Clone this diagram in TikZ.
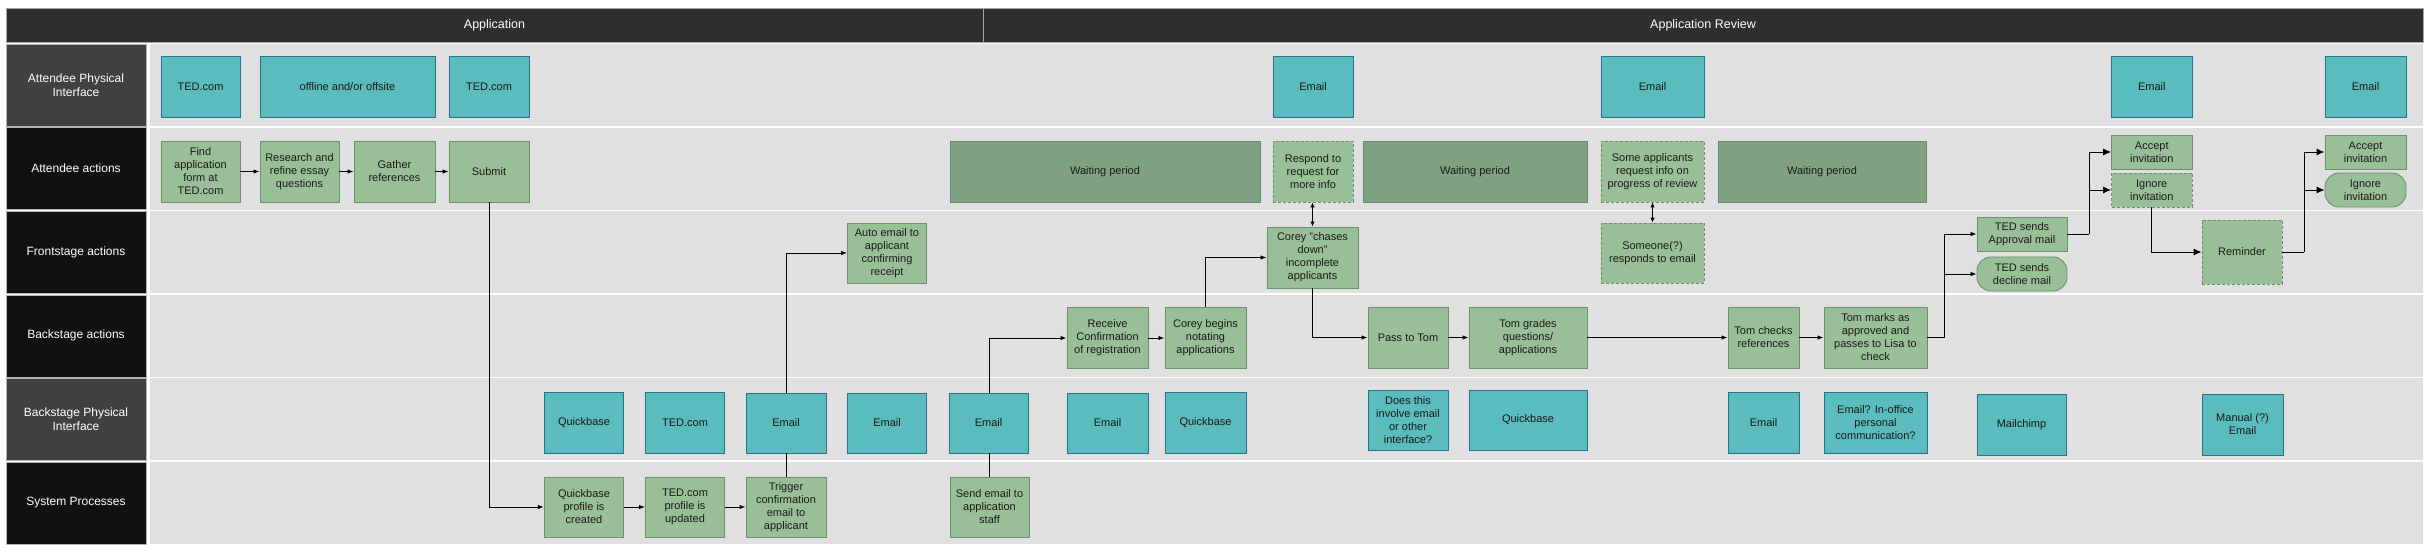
\documentclass[tikz,border=0pt]{standalone}
\usepackage{fontspec}
\setmainfont{Liberation Sans}
\usetikzlibrary{arrows.meta}
\definecolor{hdrfill}{HTML}{2E2E2E}
\definecolor{labdark}{HTML}{404040}
\definecolor{labblack}{HTML}{111111}
\definecolor{bandfill}{HTML}{E0E0E0}
\definecolor{physfill}{HTML}{5BBCBD}
\definecolor{physline}{HTML}{2C7090}
\definecolor{sagefill}{HTML}{99BF99}
\definecolor{sageline}{HTML}{6E906E}
\definecolor{waitfill}{HTML}{80A283}
\definecolor{waitline}{HTML}{6A8A6E}
\begin{document}
\begin{tikzpicture}[x=1pt,y=-1pt,
  sz/.style 2 args={minimum width=#1, minimum height=#2},
  base/.style={inner sep=1pt, align=center, font=\fontsize{11}{13}\selectfont, text=black!90, line width=0.9pt},
  phys/.style={base, fill=physfill, draw=physline},
  act/.style={base, fill=sagefill, draw=sageline},
  actdash/.style={act, dash pattern=on 3pt off 2pt},
  pill/.style={act, rounded corners=14pt},
  wait/.style={base, fill=waitfill, draw=waitline},
  lanelab/.style={text=white, align=center, font=\fontsize{12}{14}\selectfont, minimum width=140pt, minimum height=82pt, inner sep=0pt, draw=gray!60, line width=0.6pt},
  bandbox/.style={fill=bandfill, draw=none, minimum width=2273pt, minimum height=82pt, inner sep=0pt},
  hdrbox/.style={fill=hdrfill, draw=gray!70, line width=0.6pt, text=white, font=\fontsize{12.5}{15}\selectfont, minimum height=34pt, inner sep=0pt},
  conn/.style={line width=0.95pt, draw=black},
  arr/.style={conn, -{Latex[length=6pt,width=4.5pt]}},
  bigarr/.style={conn, -{Latex[length=8pt,width=7pt]}},
  dbl/.style={conn, {Latex[length=5pt,width=4.5pt]}-{Latex[length=5pt,width=4.5pt]}}
]
\useasboundingbox (0,0) rectangle (2429,556);
\fill[white] (0,0) rectangle (2429,556);

% headers
\node[hdrbox, minimum width=977pt] (hdrA) at (494.5,25) {Application};
\node[hdrbox, minimum width=1440pt] (hdrB) at (1703,25) {Application Review};

% lane bands
\node[bandbox] (band1) at (1286.5,85) {};
\node[bandbox] (band2) at (1286.5,168.6) {};
\node[bandbox] (band3) at (1286.5,252.2) {};
\node[bandbox] (band4) at (1286.5,335.8) {};
\node[bandbox] (band5) at (1286.5,419.4) {};
\node[bandbox] (band6) at (1286.5,503) {};

% lane labels
\node[lanelab, fill=labdark] (lab1) at (76,85) {Attendee Physical\\Interface};
\node[lanelab, fill=labblack] (lab2) at (76,168.6) {Attendee actions};
\node[lanelab, fill=labblack] (lab3) at (76,252.2) {Frontstage actions};
\node[lanelab, fill=labblack] (lab4) at (76,335.8) {Backstage actions};
\node[lanelab, fill=labdark] (lab5) at (76,419.4) {Backstage Physical\\Interface};
\node[lanelab, fill=labblack] (lab6) at (76,503) {System Processes};

% lane 1: attendee physical interface
\node[phys, sz={79pt}{61pt}] (a1) at (200.5,86.5) {TED.com};
\node[phys, sz={175pt}{61pt}] (a2) at (347.5,86.5) {offline and/or offsite};
\node[phys, sz={80pt}{61pt}] (a3) at (489,86.5) {TED.com};
\node[phys, sz={80pt}{61pt}] (a4) at (1313,86.5) {Email};
\node[phys, sz={103pt}{61pt}] (a5) at (1652.5,86.5) {Email};
\node[phys, sz={80.5pt}{61pt}] (a6) at (2151.75,86.5) {Email};
\node[phys, sz={81pt}{61pt}] (a7) at (2365.5,86.5) {Email};

% lane 2: attendee actions
\node[act, sz={79pt}{61pt}] (b1) at (200.5,171.5) {Find\\application\\form at\\TED.com};
\node[act, sz={79pt}{61pt}] (b2) at (299.5,171.5) {Research and\\refine essay\\questions};
\node[act, sz={81pt}{61pt}] (b3) at (394.5,171.5) {Gather\\references};
\node[act, sz={80pt}{61pt}] (b4) at (489,171.5) {Submit};
\node[wait, sz={310pt}{61pt}] (w1) at (1105,171.5) {Waiting period};
\node[actdash, sz={80pt}{61pt}] (b5) at (1313,171.5) {Respond to\\request for\\more info};
\node[wait, sz={224pt}{61pt}] (w2) at (1475,171.5) {Waiting period};
\node[actdash, sz={103pt}{61pt}] (b6) at (1652.5,171.5) {Some applicants\\request info on\\progress of review};
\node[wait, sz={208pt}{61pt}] (w3) at (1822,171.5) {Waiting period};
\node[act, sz={80.5pt}{34pt}] (acc1) at (2151.75,152) {Accept\\invitation};
\node[actdash, sz={80.5pt}{34pt}] (ign1) at (2151.75,190) {Ignore\\invitation};
\node[act, sz={81pt}{34pt}] (acc2) at (2365.5,152) {Accept\\invitation};
\node[pill, sz={81pt}{34pt}] (ign2) at (2365.5,190) {Ignore\\invitation};

% lane 3: frontstage actions
\node[act, sz={79pt}{60pt}] (c1) at (887,253) {Auto email to\\applicant\\confirming\\receipt};
\node[act, sz={91pt}{61pt}] (c2) at (1312.5,257.5) {Corey "chases\\down"\\incomplete\\applicants};
\node[actdash, sz={103pt}{60pt}] (c3) at (1652.5,253) {Someone(?)\\responds to email};
\node[act, sz={90pt}{34pt}] (c4) at (2022,234) {TED sends\\Approval mail};
\node[pill, sz={90pt}{34pt}] (c5) at (2022,274) {TED sends\\decline mail};
\node[actdash, sz={80pt}{64pt}] (c6) at (2242,252) {Reminder};

% lane 4: backstage actions
\node[act, sz={81pt}{61pt}] (d1) at (1107.5,338) {Receive\\Confirmation\\of registration};
\node[act, sz={81pt}{61pt}] (d2) at (1205.5,338) {Corey begins\\notating\\applications};
\node[act, sz={80pt}{61pt}] (d3) at (1408,337.5) {Pass to Tom};
\node[act, sz={118pt}{61pt}] (d4) at (1528,337.5) {Tom grades\\questions/\\applications};
\node[act, sz={71pt}{61pt}] (d5) at (1763.5,337.5) {Tom checks\\references};
\node[act, sz={103pt}{61pt}] (d6) at (1875.5,337.5) {Tom marks as\\approved and\\passes to Lisa to\\check};

% lane 5: backstage physical interface
\node[phys, sz={79.5pt}{61pt}] (e1) at (584,422.5) {Quickbase};
\node[phys, sz={79pt}{61pt}] (e2) at (685,422.5) {TED.com};
\node[phys, sz={80pt}{60pt}] (e3) at (786,423) {Email};
\node[phys, sz={79pt}{60pt}] (e4) at (887,423) {Email};
\node[phys, sz={79pt}{60pt}] (e5) at (988.5,423) {Email};
\node[phys, sz={81pt}{60pt}] (e6) at (1107.5,423) {Email};
\node[phys, sz={81pt}{61pt}] (e7) at (1205.5,422.5) {Quickbase};
\node[phys, sz={80pt}{60pt}] (e8) at (1408,420) {Does this\\involve email\\or other\\interface?};
\node[phys, sz={118pt}{60pt}] (e9) at (1528,420) {Quickbase};
\node[phys, sz={71pt}{61pt}] (e10) at (1763.5,422.5) {Email};
\node[phys, sz={103pt}{61pt}] (e11) at (1875.5,422.5) {Email? In-office\\personal\\communication?};
\node[phys, sz={89pt}{61pt}] (e12) at (2021.5,424.5) {Mailchimp};
\node[phys, sz={81pt}{61pt}] (e13) at (2242.5,424.5) {Manual (?)\\Email};

% lane 6: system processes
\node[act, sz={79.5pt}{60pt}] (f1) at (584,507) {Quickbase\\profile is\\created};
\node[act, sz={79pt}{60pt}] (f2) at (685,507) {TED.com\\profile is\\updated};
\node[act, sz={80pt}{60pt}] (f3) at (786,507) {Trigger\\confirmation\\email to\\applicant};
\node[act, sz={79pt}{60pt}] (f4) at (989.5,507) {Send email to\\application\\staff};

% connectors
\draw[arr] (b1.east) -- (b2.west);
\draw[arr] (b2.east) -- (b3.west);
\draw[arr] (b3.east) -- (b4.west);
\draw[arr] (b4.south) |- (f1.west);
\draw[arr] (f1.east) -- (f2.west);
\draw[arr] (f2.east) -- (f3.west);
\draw[conn] (f3.north) -- (e3.south);
\draw[arr] (e3.north) |- (c1.west);
\draw[conn] (f4.north) -- (f4.north |- e5.south);
\draw[arr] (f4.north |- e5.north) |- (d1.west);
\draw[arr] (d1.east) -- (d2.west);
\draw[arr] (d2.north) |- (c2.west);
\draw[dbl] (c2.north) -- (c2.north |- b5.south);
\draw[arr] (c2.south) |- (d3.west);
\draw[arr] (d3.east) -- (d4.west);
\draw[arr] (d4.east) -- (d5.west);
\draw[arr] (d5.east) -- (d6.west);
\path (d6.east) ++(17,0) coordinate (j1);
\draw[conn] (d6.east) -- (j1);
\draw[arr] (j1) |- (c4.west);
\draw[arr] (j1) |- (c5.west);
\draw[dbl] (b6.south) -- (c3.north);
\path (c4.east) ++(22,0) coordinate (j2);
\draw[conn] (c4.east) -- (j2);
\draw[bigarr] (j2) |- (acc1.west);
\draw[bigarr] (j2) |- (ign1.west);
\draw[bigarr] (ign1.south) |- (c6.west);
\path (c6.east) ++(22,0) coordinate (j3);
\draw[conn] (c6.east) -- (j3);
\draw[bigarr] (j3) |- (acc2.west);
\draw[bigarr] (j3) |- (ign2.west);
\end{tikzpicture}
\end{document}
